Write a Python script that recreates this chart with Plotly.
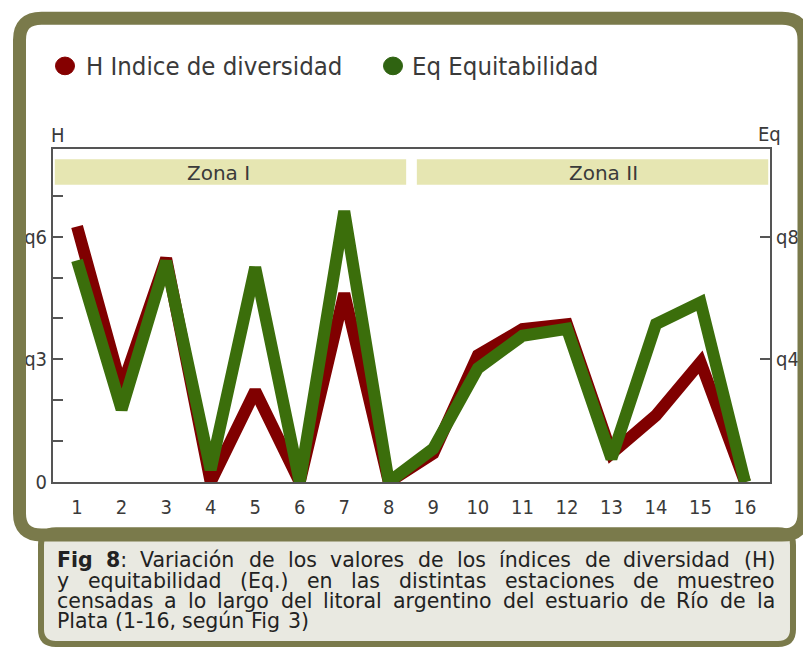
import plotly.graph_objects as go

# ---------------- data ----------------
stations = list(range(1, 17))
h_diversidad = [0.625, 0.23, 0.547, 0.0, 0.223, 0.0, 0.461, 0.0,
                0.07, 0.31, 0.374, 0.386, 0.07, 0.163, 0.293, 0.0]
eq_equitabilidad = [0.723, 0.237, 0.72, 0.04, 0.70, 0.0, 0.883, 0.0,
                    0.109, 0.371, 0.477, 0.50, 0.077, 0.515, 0.586, 0.0]
h_tickvals = [0, 0.1, 0.2, 0.3, 0.4, 0.5, 0.6, 0.7]
h_ticktext = ["0", "", "", "q3", "", "", "q6", ""]
eq_tickvals = [0.4, 0.8]
eq_ticktext = ["q4", "q8"]
zones = ["Zona I", "Zona II"]
zone_x = [(0.5, 8.39), (8.63, 16.52)]
zone_label_x = [4.17, 12.81]
legend_names = ["H Indice de diversidad", "Eq Equitabilidad"]
caption_bold = "Fig 8"
caption_lines = [
    "Fig 8: Variación de los valores de los índices de diversidad (H)",
    "y equitabilidad (Eq.) en las distintas estaciones de muestreo",
    "censadas a lo largo del litoral argentino del estuario de Río de la",
    "Plata (1-16, según Fig 3)",
]

# ---------------- style ----------------
OFF = 8                 # page body margin
W, HGT = 802, 650       # figure size (page is 811x666)
RED = "#800000"
GREEN = "#3b6e0b"
OLIVE = "#7a7a4b"
ZONE_BG = "#e6e6b2"
CAPTION_BG = "#e9e9e1"
AX = "#555555"
TXT = "#3a3a3a"
FONT_C = "DejaVu Sans Condensed, Liberation Sans Narrow, Liberation Sans, sans-serif"
FONT_V = "DejaVu Sans, Verdana, sans-serif"
CAP_SIZE = 20.5


def px(x):
    return (x - OFF) / W


def py(y):
    return 1 - (y - OFF) / HGT


def rrect(x0, y0, x1, y1, r):
    def P(x, y):
        return f"{px(x):.5f},{py(y):.5f}"
    pts = ["M " + P(x0 + r, y0), "L " + P(x1 - r, y0),
           "Q " + P(x1, y0) + " " + P(x1, y0 + r), "L " + P(x1, y1 - r),
           "Q " + P(x1, y1) + " " + P(x1 - r, y1), "L " + P(x0 + r, y1),
           "Q " + P(x0, y1) + " " + P(x0, y1 - r), "L " + P(x0, y0 + r),
           "Q " + P(x0, y0) + " " + P(x0 + r, y0), "Z"]
    return " ".join(pts)


# approximate DejaVu Sans advance widths (em) used to justify the caption
WREG = {' ': .318, 'a': .613, 'b': .635, 'c': .550, 'd': .635, 'e': .615, 'f': .352,
        'g': .635, 'h': .634, 'i': .278, 'í': .278, 'j': .278, 'l': .278, 'm': .974,
        'n': .634, 'o': .612, 'ó': .612, 'p': .635, 'q': .635, 'r': .411, 's': .521,
        't': .392, 'u': .634, 'ú': .634, 'v': .592, 'y': .592, 'E': .632, 'F': .575,
        'H': .752, 'P': .603, 'R': .695, 'V': .684, '(': .390, ')': .390, ':': .337,
        '.': .318, ',': .318, '-': .361}
WBOLD = {'F': .683, 'i': .343, 'g': .716, '8': .696, ' ': .348}


def tok_width(t, bold=False):
    w = 0
    for ch in t:
        if bold and ch in WBOLD:
            w += WBOLD[ch]
        elif ch.isdigit():
            w += .636
        else:
            w += WREG.get(ch, .6)
    return w * CAP_SIZE


fig = go.Figure()
fig.add_trace(go.Scatter(x=stations, y=h_diversidad, mode="lines",
                         line=dict(color=RED, width=12), name=legend_names[0],
                         yaxis="y"))
fig.add_trace(go.Scatter(x=stations, y=eq_equitabilidad, mode="lines",
                         line=dict(color=GREEN, width=12), name=legend_names[1],
                         yaxis="y2"))

shapes = []
shapes.append(dict(type="path", path=rrect(41, 540, 793, 656, 15), xref="paper", yref="paper",
                   fillcolor=CAPTION_BG, line=dict(color=OLIVE, width=6), layer="above"))
shapes.append(dict(type="path", path=rrect(19.5, 18.5, 804, 545, 22), xref="paper", yref="paper",
                   fillcolor="rgba(0,0,0,0)", line=dict(color=OLIVE, width=13), layer="above"))
for (a, b) in zone_x:
    shapes.append(dict(type="rect", xref="x", yref="paper", x0=a, x1=b,
                       y0=py(188), y1=py(162), fillcolor=ZONE_BG, line=dict(width=0),
                       layer="below"))
for cx, col in [(65, "#850000"), (393, "#2f6311")]:
    shapes.append(dict(type="circle", xref="paper", yref="paper",
                       x0=px(cx - 9.5), x1=px(cx + 9.5), y0=py(67 + 9), y1=py(67 - 9),
                       fillcolor=col, line=dict(color=col, width=1), layer="above"))

annotations = []
for xpos, name in [(84, legend_names[0]), (410, legend_names[1])]:
    annotations.append(dict(text=name, x=px(xpos), y=py(67), xref="paper", yref="paper",
                            xanchor="left", yanchor="middle", showarrow=False,
                            font=dict(family=FONT_C, size=25.5, color=TXT)))
annotations.append(dict(text="H", x=px(49), y=py(137), xref="paper", yref="paper",
                        xanchor="left", yanchor="middle", showarrow=False,
                        font=dict(family=FONT_C, size=20, color=TXT)))
annotations.append(dict(text="Eq", x=px(756), y=py(136), xref="paper", yref="paper",
                        xanchor="left", yanchor="middle", showarrow=False,
                        font=dict(family=FONT_C, size=20, color=TXT)))
for zx, zname in zip(zone_label_x, zones):
    annotations.append(dict(text=zname, x=zx, y=py(176), xref="x", yref="paper",
                            xanchor="center", yanchor="middle", showarrow=False,
                            font=dict(family=FONT_V, size=20, color=TXT)))

# caption, word by word, justified between LEFT and RIGHT (last line left aligned)
LEFT, RIGHT = 56, 774
bold_words = caption_bold.split()
for i, line in enumerate(caption_lines):
    words = line.split(" ")
    ycen = py(570.5 + 20.8 * i)
    items = []
    for j, wd in enumerate(words):
        if i == 0 and j < len(bold_words):
            core = bold_words[j]
            rest = wd[len(core):]
            items.append((f"<b>{core}</b>{rest}", tok_width(core, True) + tok_width(rest)))
        else:
            items.append((wd, tok_width(wd)))
    natural = sum(w for _, w in items)
    gaps = len(items) - 1
    if i < len(caption_lines) - 1 and gaps > 0:
        gap = (RIGHT - LEFT - natural) / gaps
    else:
        gap = tok_width(" ")
    x = LEFT
    for txt, wpx in items:
        annotations.append(dict(text=txt, x=px(x), y=ycen, xref="paper", yref="paper",
                                xanchor="left", yanchor="middle", showarrow=False,
                                borderpad=0,
                                font=dict(family=FONT_V, size=CAP_SIZE, color="#222222")))
        x += wpx + gap

fig.update_layout(
    width=W, height=HGT,
    margin=dict(l=0, r=0, t=0, b=0),
    paper_bgcolor="white",
    plot_bgcolor="rgba(0,0,0,0)",
    showlegend=False,
    shapes=shapes,
    annotations=annotations,
    xaxis=dict(domain=[px(53), px(770)], range=[0.46, 16.56], tickvals=stations,
               ticktext=[str(s) for s in stations], ticks="", showgrid=False, zeroline=False,
               showline=True, linecolor=AX, linewidth=2, mirror=True,
               tickfont=dict(family=FONT_C, size=20, color=TXT), ticklabelstandoff=6),
    yaxis=dict(domain=[py(491), py(152)], range=[0, 0.8136], tickvals=h_tickvals,
               ticktext=h_ticktext, ticks="inside", ticklen=10, tickcolor=AX, tickwidth=2,
               showgrid=False, zeroline=False, showline=True, linecolor=AX, linewidth=2,
               tickfont=dict(family=FONT_C, size=20, color=TXT), ticklabelstandoff=0),
    yaxis2=dict(overlaying="y", side="right", range=[0, 1.085], tickvals=eq_tickvals,
                ticktext=eq_ticktext, ticks="inside", ticklen=10, tickcolor=AX, tickwidth=2,
                showgrid=False, zeroline=False, showline=True, linecolor=AX, linewidth=2,
                tickfont=dict(family=FONT_C, size=20, color=TXT), ticklabelstandoff=0),
)

fig.write_html("out.html")
